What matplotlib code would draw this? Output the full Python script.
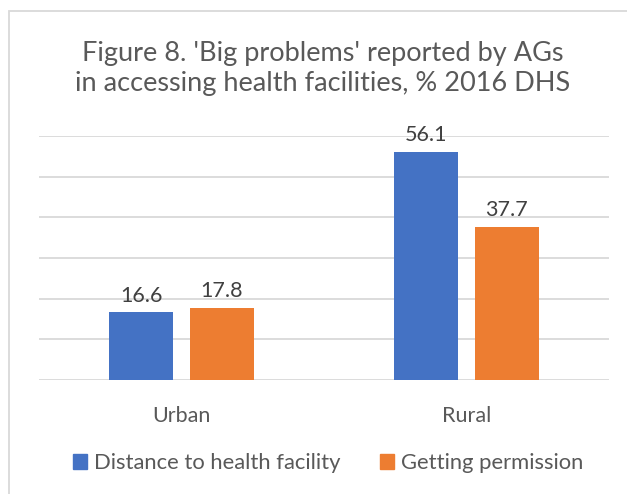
import matplotlib
matplotlib.use("Agg")
import matplotlib.pyplot as plt
from matplotlib.patches import Patch, Rectangle
import numpy as np

categories = ["Urban", "Rural"]
distance = [16.6, 56.1]
permission = [17.8, 37.7]
series_names = ["Distance to health facility", "Getting permission"]
title = "Figure 8. 'Big problems' reported by AGs\nin accessing health facilities, % 2016 DHS"

blue = "#4472C4"
orange = "#ED7D31"
grey_txt = "#595959"
grid_col = "#D9D9D9"

plt.rcParams['font.family'] = ['Lato', 'DejaVu Sans']

fig = plt.figure(figsize=(6.27, 4.94), dpi=100)
ax = fig.add_axes([39/627, 1-380/494, (609-39)/627, (380-136)/494])

x = np.arange(len(categories))
w = 0.225
off = 0.141
b1 = ax.bar(x-off, distance, w, color=blue, zorder=3)
b2 = ax.bar(x+off, permission, w, color=orange, zorder=3)

for bars, vals in ((b1, distance), (b2, permission)):
    for r, v in zip(bars, vals):
        ax.text(r.get_x()+r.get_width()/2, v+1.6, f"{v:.1f}", ha="center", va="bottom",
                fontsize=15.5, color="#404040")

ax.set_xlim(-0.5, 1.5)
ax.set_ylim(0, 60)
ax.set_yticks(np.arange(0, 61, 10))
ax.yaxis.grid(True, color=grid_col, linewidth=1.3, zorder=0)
ax.tick_params(axis="y", length=0, labelleft=False)
ax.set_xticks(x)
ax.set_xticklabels(categories, fontsize=15.5, color=grey_txt)
ax.tick_params(axis="x", length=0, pad=19)
for s in ax.spines.values():
    s.set_visible(False)

fig.text(0.515, 1-68/494, title, ha="center", va="center", fontsize=19.5,
         color=grey_txt, linespacing=1.25)

handles = [Patch(color=blue), Patch(color=orange)]
fig.legend(handles, series_names, loc="center", bbox_to_anchor=(0.523, 1-463/494), ncol=2,
           frameon=False, fontsize=15.8, labelcolor=grey_txt, handlelength=0.65, handleheight=0.65,
           handletextpad=0.3, columnspacing=1.8)

fig.patches.append(Rectangle((9/627, -0.1), 1.2, (494-11)/494+0.1, transform=fig.transFigure,
                             fill=False, edgecolor=grid_col, linewidth=1.3))

fig.savefig("out.png", dpi=100)
